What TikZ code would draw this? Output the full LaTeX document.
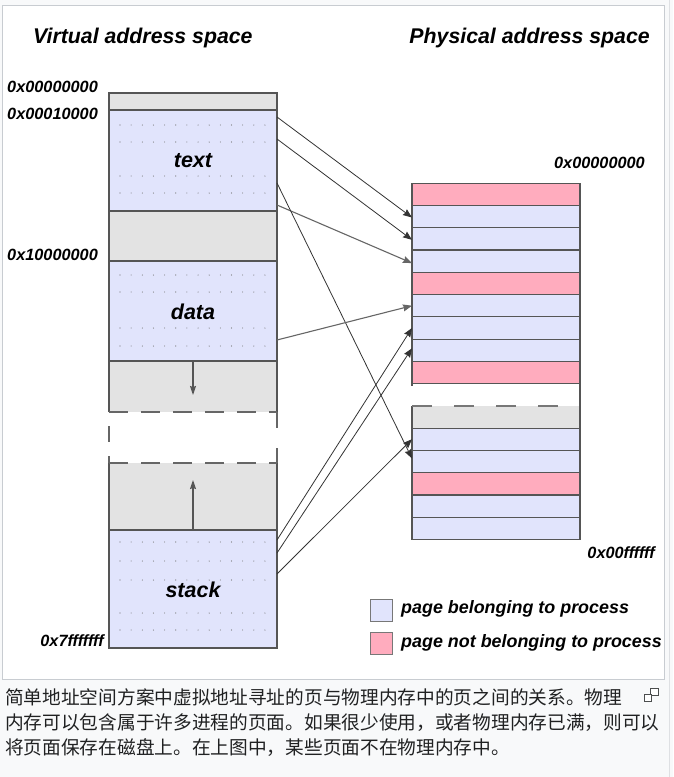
\documentclass[tikz,border=0pt]{standalone}
\usepackage{fontspec}
\setmainfont{Liberation Sans}
\newfontfamily\cjk{Noto Sans CJK SC}
\usetikzlibrary{arrows.meta}
\definecolor{pagebg}{HTML}{F8F9FA}
\definecolor{framec}{HTML}{C8CCD1}
\definecolor{lav}{HTML}{E1E4FC}
\definecolor{pinkc}{HTML}{FFACBE}
\definecolor{grayc}{HTML}{E3E3E3}
\definecolor{edgec}{HTML}{555555}
\definecolor{captc}{HTML}{202122}
\tikzset{
  vseg/.style={fill=#1, draw=edgec, line width=1.2pt, minimum width=168pt, inner sep=0pt, outer sep=0pt},
  prow/.style={fill=#1, draw=edgec, line width=1.1pt, minimum width=168pt, minimum height=22.3pt, inner sep=0pt, outer sep=0pt},
  head/.style={font=\fontsize{21.3}{25}\selectfont\bfseries\itshape, inner sep=0pt},
  addr/.style={font=\fontsize{16.3}{19}\selectfont\bfseries\itshape, inner sep=0pt},
  seglab/.style={font=\fontsize{21.5}{25}\selectfont\bfseries\itshape, inner sep=0pt},
  leglab/.style={font=\fontsize{17.9}{21}\selectfont\bfseries\itshape, inner sep=0pt, anchor=west},
  legbox/.style={fill=#1, draw=edgec!80, line width=0.9pt, minimum width=22pt, minimum height=22pt, inner sep=0pt},
  maparrow/.style={draw=black!80, line width=0.8pt, -{Stealth[length=9pt,width=7pt,inset=1pt]}},
  maparrowg/.style={draw=black!60, line width=1.1pt, -{Stealth[length=9pt,width=7pt,inset=1pt]}},
  growarrow/.style={draw=edgec, line width=1.2pt, -{Stealth[length=9pt,width=6pt,inset=1pt]}},
  captxt/.style={font=\fontsize{18.7}{22}\selectfont\cjk, text=captc, inner sep=0pt, anchor=west},
  vdash/.style={draw=edgec!90, line width=1.2pt, dash pattern=on 19pt off 13pt},
  pdash/.style={draw=edgec!80, line width=1.1pt, dash pattern=on 20pt off 22pt}
}
\begin{document}
\begin{tikzpicture}[x=1pt,y=-1pt]
\useasboundingbox (0,0) rectangle (673,777);
\fill[pagebg] (0,0) rectangle (673,777);
\draw[framec, fill=white, line width=1pt] (2.5,5.5) rectangle (664.5,679.5);
\draw[framec!60, line width=1pt] (669.5,0) -- (669.5,777);

% headings
\node[head, anchor=west] (hv) at (33,38) {Virtual address space};
\node[head, anchor=east] (hp) at (650,38) {Physical address space};

% virtual address space
\node[vseg=grayc, minimum height=17pt] (v0) at (193,101.5) {};
\node[vseg=lav, minimum height=101pt] (vtext) at (193,160.5) {};
\node[vseg=grayc, minimum height=50pt] (v2) at (193,236) {};
\node[vseg=lav, minimum height=100pt] (vdata) at (193,311) {};
\fill[grayc] (109,361) rectangle (277,412);
\fill[grayc] (109,463) rectangle (277,530);
\draw[edgec, line width=1.2pt] (109,412) -- (109,361) -- (277,361) -- (277,412);
\draw[edgec, line width=1.2pt] (109,463) -- (109,530) -- (277,530) -- (277,463);
\draw[vdash] (109,412) -- (277,412);
\draw[vdash] (109,463) -- (277,463);
\draw[vdash, dash pattern=on 16pt off 14pt, dash phase=-14pt] (109,412) -- (109,463);
\draw[vdash, dash pattern=on 16pt off 20pt] (277,412) -- (277,463);
\node[vseg=lav, minimum height=118pt] (vstack) at (193,589) {};

% dot grids
\foreach \yy in {125,142,176,193,275,292,328,346,542,561,580,613,630}{
  \foreach \k in {0,...,13}{
    \fill[black!55] (120+11.15*\k,\yy) circle (0.55pt);
  }
}

\node[seglab] (ltext) at (193,161) {text};
\node[seglab] (ldata) at (193,312) {data};
\node[seglab] (lstack) at (193,590) {stack};

% growth arrows
\coordinate (dn0) at (193,361);
\coordinate (dn1) at (193,395);
\coordinate (up0) at (193,530);
\coordinate (up1) at (193,480);
\draw[growarrow] (dn0) -- (dn1);
\draw[growarrow] (up0) -- (up1);

% addresses
\node[addr, anchor=west] (a0) at (7,87) {0x00000000};
\node[addr, anchor=west] (a1) at (7,114) {0x00010000};
\node[addr, anchor=west] (a2) at (7,255) {0x10000000};
\node[addr, anchor=east] (a3) at (104,641) {0x7fffffff};
\node[addr, anchor=east] (a4) at (645,163) {0x00000000};
\node[addr, anchor=east] (a5) at (655,553) {0x00ffffff};

% physical address space
\node[prow=pinkc] (p1) at (496,194.2) {};
\node[prow=lav] (p2) at (496,216.5) {};
\node[prow=lav] (p3) at (496,238.8) {};
\node[prow=lav] (p4) at (496,261.1) {};
\node[prow=pinkc] (p5) at (496,283.4) {};
\node[prow=lav] (p6) at (496,305.7) {};
\node[prow=lav] (p7) at (496,328.0) {};
\node[prow=lav] (p8) at (496,350.3) {};
\node[prow=pinkc] (p9) at (496,372.6) {};
\draw[edgec, line width=1.1pt] (p9.south east) -- (580,406);
\draw[edgec, line width=1.1pt] (p9.south west) -- ++(0,2);
\fill[grayc] (412,406) rectangle (580,428);
\draw[edgec, line width=1.1pt] (412,406) -- (412,428) (580,406) -- (580,428);
\draw[pdash] (412,406) -- (580,406);
\node[prow=lav] (q2) at (496,439.2) {};
\node[prow=lav] (q3) at (496,461.5) {};
\node[prow=pinkc] (q4) at (496,483.8) {};
\node[prow=lav] (q5) at (496,506.1) {};
\node[prow=lav] (q6) at (496,528.4) {};

% mapping arrows
\coordinate (s1) at (277,117);
\coordinate (s2) at (277,139);
\coordinate (s3) at (277,205);
\coordinate (s4) at (277,183);
\coordinate (s5) at (277,340);
\coordinate (s6) at (277,540);
\coordinate (s7) at (277,553);
\coordinate (s8) at (277,574);
\draw[maparrow] (s1) -- ([yshift=-1pt]p2.west);
\draw[maparrow] (s2) -- ([yshift=-1pt]p3.west);
\draw[maparrowg] (s3) -- ([yshift=-2pt]p4.west);
\draw[maparrow] (s4) -- ([yshift=3pt]q3.west);
\draw[maparrowg] (s5) -- (p6.west);
\draw[maparrow] (s6) -- (p7.west);
\draw[maparrow] (s7) -- ([yshift=2pt]p8.west);
\draw[maparrow] (s8) -- (q2.west);

% legend
\node[legbox=lav] (lg1) at (381,610) {};
\node[legbox=pinkc] (lg2) at (381,643) {};
\node[leglab] (lt1) at (401,609) {page belonging to process};
\node[leglab] (lt2) at (401,643) {page not belonging to process};

% caption
\node[captxt] (c1) at (5,697) {简单地址空间方案中虚拟地址寻址的页与物理内存中的页之间的关系。物理};
\node[captxt] (c2) at (5,722.5) {内存可以包含属于许多进程的页面。如果很少使用，或者物理内存已满，则可以};
\node[captxt] (c3) at (5,748) {将页面保存在磁盘上。在上图中，某些页面不在物理内存中。};

% enlarge icon
\draw[captc!80, line width=0.9pt, fill=white] (650.5,688.5) rectangle (658.5,695.5);
\draw[captc!80, line width=0.9pt, fill=white] (644.5,694.5) rectangle (651.5,701.5);
\end{tikzpicture}
\end{document}
